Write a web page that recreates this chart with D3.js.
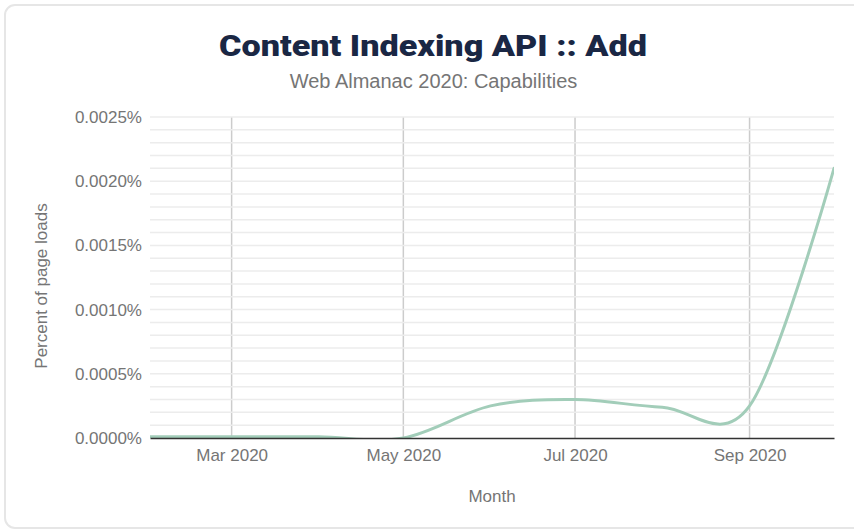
<!DOCTYPE html>
<html>
<head>
<meta charset="utf-8">
<script src="https://cdn.jsdelivr.net/npm/d3@7"></script>
<style>
  html, body { margin: 0; padding: 0; background: #fff; }
  svg { display: block; }
</style>
</head>
<body>
<svg id="chart" width="854" height="531"></svg>
<script>
// ---- data ----
const months = ["2020-02-01","2020-03-01","2020-04-01","2020-05-01","2020-06-01","2020-07-01","2020-08-01","2020-09-01","2020-10-01"];
const addValues = [0.00001, 0.00001, 0.00001, 0.0, 0.00025, 0.0003, 0.00024, 0.00025, 0.0021];
const xTickDates = ["2020-03-01","2020-05-01","2020-07-01","2020-09-01"];
const yMajorTicks = [0, 0.0005, 0.001, 0.0015, 0.002, 0.0025];
const yMinorTicks = [0.0001,0.0002,0.0003,0.0004,0.0006,0.0007,0.0008,0.0009,0.0011,0.0012,0.0013,0.0014,0.0016,0.0017,0.0018,0.0019,0.0021,0.0022,0.0023,0.0024];

const titleText = "Content Indexing API :: Add";
const subtitleText = "Web Almanac 2020: Capabilities";
const xTitle = "Month";
const yTitle = "Percent of page loads";

// ---- setup ----
const parse = d3.utcParse("%Y-%m-%d");
const data = months.map((m, i) => ({ date: parse(m), value: addValues[i] }));

const svg = d3.select("#chart");
const pLeft = 150, pRight = 834, pTop = 117, pBottom = 438;
const labelFont = "'Liberation Sans', Arial, sans-serif";

// card
svg.append("rect")
  .attr("x", 5).attr("y", 5)
  .attr("width", 1000).attr("height", 523)
  .attr("rx", 10).attr("ry", 10)
  .attr("fill", "#fff")
  .attr("stroke", "#e6e6e6")
  .attr("stroke-width", 2);

svg.append("clipPath").attr("id", "plotclip")
  .append("rect")
  .attr("x", pLeft).attr("y", pTop - 5)
  .attr("width", pRight - pLeft).attr("height", pBottom - pTop + 5);

const x = d3.scaleUtc()
  .domain([parse(months[0]), parse(months[months.length - 1])])
  .range([pLeft, pRight]);
const y = d3.scaleLinear().domain([0, 0.0025]).range([pBottom, pTop]);

// vertical gridlines
svg.append("g").selectAll("line")
  .data(xTickDates.map(parse))
  .join("line")
  .attr("x1", d => x(d)).attr("x2", d => x(d))
  .attr("y1", pTop).attr("y2", pBottom)
  .attr("stroke", "#cccccc").attr("stroke-width", 1.5);

// horizontal gridlines
svg.append("g").selectAll("line")
  .data(yMinorTicks.concat(yMajorTicks.filter(d => d > 0)))
  .join("line")
  .attr("x1", pLeft).attr("x2", pRight)
  .attr("y1", d => y(d)).attr("y2", d => y(d))
  .attr("stroke", "#ececec").attr("stroke-width", 1.5);

// y axis labels
const yAxis = d3.axisLeft(y)
  .tickValues(yMajorTicks)
  .tickSize(0)
  .tickPadding(8)
  .tickFormat(d => d.toFixed(4) + "%");
const gy = svg.append("g").attr("transform", `translate(${pLeft},0)`).call(yAxis);
gy.select(".domain").remove();
gy.selectAll("text")
  .attr("font-family", labelFont)
  .attr("font-size", 17)
  .attr("fill", "#757575");

// line
const line = d3.line()
  .x(d => x(d.date))
  .y(d => y(d.value))
  .curve(d3.curveCardinal.tension(0));
svg.append("path")
  .datum(data)
  .attr("clip-path", "url(#plotclip)")
  .attr("d", line)
  .attr("fill", "none")
  .attr("stroke", "#a2cdb9")
  .attr("stroke-width", 3)
  .attr("stroke-linejoin", "round")
  .attr("stroke-linecap", "round");

// x axis
const xAxis = d3.axisBottom(x)
  .tickValues(xTickDates.map(parse))
  .tickSize(0)
  .tickPadding(11)
  .tickFormat(d3.utcFormat("%b %Y"));
const gx = svg.append("g").attr("transform", `translate(0,${pBottom})`).call(xAxis);
gx.select(".domain").attr("stroke", "#333").attr("stroke-width", 1.5);
gx.selectAll("text")
  .attr("font-family", labelFont)
  .attr("font-size", 17)
  .attr("fill", "#757575");

// titles
svg.append("text")
  .attr("x", 433).attr("y", 56)
  .attr("text-anchor", "middle")
  .attr("font-family", "Roboto, sans-serif")
  .attr("font-weight", 900)
  .attr("font-size", 30)
  .attr("textLength", 428)
  .attr("lengthAdjust", "spacingAndGlyphs")
  .attr("fill", "#1a2744")
  .text(titleText);

svg.append("text")
  .attr("x", 433.5).attr("y", 88)
  .attr("text-anchor", "middle")
  .attr("font-family", labelFont)
  .attr("font-size", 20)
  .attr("fill", "#757575")
  .text(subtitleText);

svg.append("text")
  .attr("x", (pLeft + pRight) / 2).attr("y", 502)
  .attr("text-anchor", "middle")
  .attr("font-family", labelFont)
  .attr("font-size", 17)
  .attr("fill", "#757575")
  .text(xTitle);

svg.append("text")
  .attr("transform", `translate(47,286) rotate(-90)`)
  .attr("text-anchor", "middle")
  .attr("font-family", labelFont)
  .attr("font-size", 17)
  .attr("fill", "#757575")
  .text(yTitle);
</script>
</body>
</html>
